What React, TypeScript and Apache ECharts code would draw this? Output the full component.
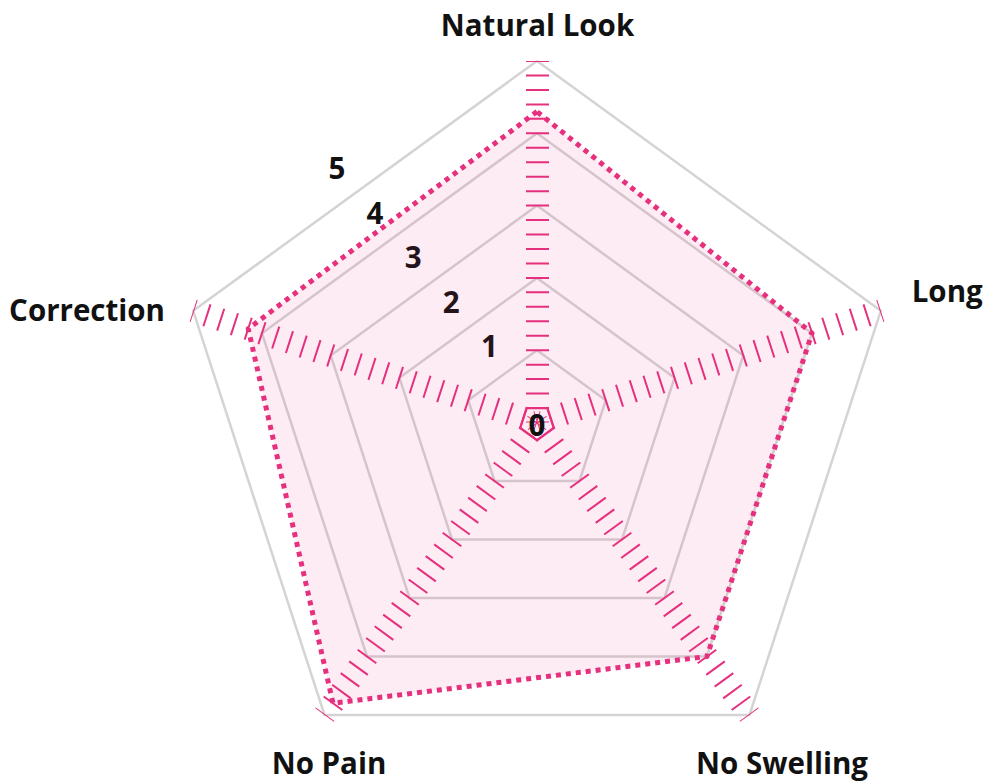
import React, { useEffect, useRef } from 'react';
import * as echarts from 'echarts';

// ---- data ----
const indicators = ['Natural Look', 'Correction', 'No Pain', 'No Swelling', 'Long'];
const scoreValues = [4.3, 4.2, 4.8, 4.0, 4.0];
const tickLabels = ['0', '1', '2', '3', '4', '5'];
const maxValue = 5;

// ---- styling / layout ----
const PINK = '#E6317E';
const GRID_GRAY = '#D4D4D4';
const TEXT = '#111111';
const FONT = 'Open Sans';
const FONT_SIZE = 29.5;
const CX = 537;
const CY = 422.5;
const R = 361.5;

const nameLayout: Record<string, { x: number; y: number; align: string }> = {
  'Natural Look': { x: 537.5, y: 24.5, align: 'center' },
  Correction: { x: 165, y: 309.7, align: 'right' },
  'No Pain': { x: 329, y: 762, align: 'center' },
  'No Swelling': { x: 782, y: 762, align: 'center' },
  Long: { x: 911.7, y: 290.8, align: 'left' },
};

export default function App() {
  const ref = useRef<HTMLDivElement>(null);
  useEffect(() => {
    if (!ref.current) return;
    const chart = echarts.init(ref.current, undefined, { renderer: 'svg' });
    const step = R / (maxValue * 5);
    chart.setOption({
      animation: false,
      backgroundColor: '#ffffff',
      radar: [
        {
          center: [CX, CY],
          radius: R,
          startAngle: 90,
          splitNumber: 5,
          shape: 'polygon',
          indicator: indicators.map((n) => ({ name: n, min: 0, max: maxValue })),
          axisName: { show: false },
          axisLine: {
            lineStyle: {
              color: PINK,
              width: 23,
              type: [2, step - 2],
              dashOffset: 1,
              cap: 'butt',
            },
          },
          axisTick: { show: false },
          axisLabel: { show: false },
          splitLine: { lineStyle: { color: GRID_GRAY, width: 2.5 } },
          splitArea: { show: false },
        },
        {
          center: [CX, CY],
          radius: 17.5,
          startAngle: 270,
          splitNumber: 1,
          shape: 'polygon',
          indicator: indicators.map(() => ({ name: '', min: 0, max: 1 })),
          axisName: { show: false },
          axisLine: { show: false },
          axisTick: { show: false },
          axisLabel: { show: false },
          splitLine: { lineStyle: { color: PINK, width: 2 } },
          splitArea: { show: false },
        },
      ],
      polar: { center: [527.5, 390.6], radius: 293.5 },
      angleAxis: {
        type: 'value',
        show: false,
        startAngle: 130.5,
        min: 0,
        max: 360,
      },
      radiusAxis: {
        type: 'value',
        min: 0,
        max: maxValue,
        interval: 1,
        axisLine: { show: false },
        axisTick: { show: false },
        splitLine: { show: false },
        axisLabel: {
          showMinLabel: false,
          margin: 0,
          align: 'center',
          verticalAlign: 'middle',
          fontFamily: FONT,
          fontWeight: 'bold',
          fontSize: FONT_SIZE,
          color: TEXT,
          formatter: (v: number) => tickLabels[Math.round(v)] ?? String(v),
        },
      },
      series: [
        {
          type: 'radar',
          radarIndex: 0,
          symbol: 'none',
          lineStyle: { color: PINK, width: 5, type: 'dotted', cap: 'butt' },
          areaStyle: { color: PINK, opacity: 0.09 },
          data: [{ value: scoreValues, name: 'Score' }],
        },
      ],
      graphic: [
        ...indicators.map((name) => ({
          type: 'text',
          x: nameLayout[name].x,
          y: nameLayout[name].y,
          z: 100,
          style: {
            text: name,
            fontFamily: FONT,
            fontWeight: 'bold',
            fontSize: FONT_SIZE,
            fill: TEXT,
            align: nameLayout[name].align,
            verticalAlign: 'middle',
          },
        })),
        {
          type: 'text',
          x: CX,
          y: CY + 1.5,
          z: 100,
          style: {
            text: tickLabels[0],
            fontFamily: FONT,
            fontWeight: 'bold',
            fontSize: FONT_SIZE,
            fill: TEXT,
            align: 'center',
            verticalAlign: 'middle',
          },
        },
      ],
    });
    return () => chart.dispose();
  }, []);
  return (
    <div
      ref={ref}
      style={{ position: 'fixed', left: 0, top: 0, width: '988px', height: '783px' }}
    />
  );
}
